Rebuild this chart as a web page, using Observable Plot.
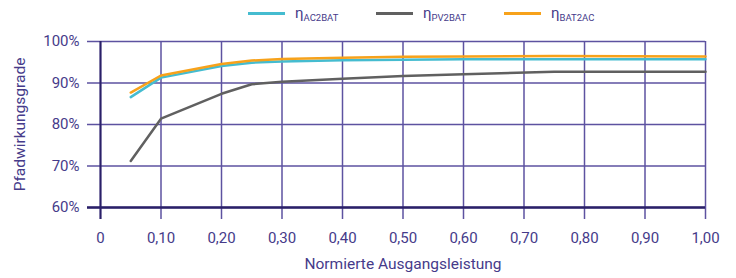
<!DOCTYPE html>
<html><head><meta charset="utf-8">
<script src="https://cdn.jsdelivr.net/npm/d3@7"></script>
<script src="https://cdn.jsdelivr.net/npm/@observablehq/plot@0.6"></script>
<style>
body{margin:0;background:#fff;font-family:Roboto,"Noto Sans",sans-serif;color:#463b8a;}
#legend{position:relative;height:28px;width:736px;}
.item{position:absolute;top:4px;display:flex;align-items:center;font-size:15px;color:#463b8a;}
.item .sw{width:37px;height:3px;margin-right:10px;}
.item sub{font-size:9.5px;vertical-align:-3px;}
</style></head>
<body>
<div id="legend"></div>
<div id="chart"></div>
<script>
const xs = [0.05, 0.1, 0.2, 0.25, 0.3, 0.4, 0.5, 0.6, 0.75, 1.0];
const ac2bat = [86.6, 91.3, 94.1, 94.9, 95.2, 95.5, 95.6, 95.7, 95.75, 95.75];
const pv2bat = [71.2, 81.4, 87.4, 89.7, 90.3, 91.0, 91.7, 92.1, 92.7, 92.7];
const bat2ac = [87.7, 91.8, 94.6, 95.4, 95.8, 96.1, 96.3, 96.4, 96.5, 96.4];
const seriesNames = ["AC2BAT", "PV2BAT", "BAT2AC"];
const seriesColors = ["#45bcd0", "#606060", "#f7a21b"];
const xTicks = [0, 0.1, 0.2, 0.3, 0.4, 0.5, 0.6, 0.7, 0.8, 0.9, 1.0];
const yTicks = [60, 70, 80, 90, 100];
const xTitle = "Normierte Ausgangsleistung";
const yTitle = "Pfadwirkungsgrade";

const values = [ac2bat, pv2bat, bat2ac];
const data = [];
seriesNames.forEach((s, i) => xs.forEach((x, j) => data.push({series: s, x, y: values[i][j]})));

// legend
const legendLeft = [248, 376, 504];
const leg = document.getElementById("legend");
seriesNames.forEach((s, i) => {
  const d = document.createElement("div");
  d.className = "item";
  d.style.left = legendLeft[i] + "px";
  d.innerHTML = `<span class="sw" style="background:${seriesColors[i]}"></span><span>η<sub>${s}</sub></span>`;
  leg.appendChild(d);
});

const grid = "#5d52a0";
const axisC = "#2a2068";
const txt = "#463b8a";
const fmtX = d => d === 0 ? "0" : d.toFixed(2).replace(".", ",");

const chart = Plot.plot({
  width: 736, height: 250,
  marginLeft: 100, marginRight: 31, marginTop: 13, marginBottom: 71,
  style: {fontFamily: "Roboto, 'Noto Sans', sans-serif", fontSize: "15px", color: txt, background: "#fff"},
  x: {domain: [0, 1]},
  y: {domain: [60, 100]},
  color: {domain: seriesNames, range: seriesColors},
  marks: [
    Plot.ruleY(yTicks, {x1: 0, x2: 1, insetLeft: -13, stroke: grid, strokeWidth: 1.5}),
    Plot.ruleX(xTicks, {y1: 100, y2: 60, insetBottom: -12, stroke: grid, strokeWidth: 1.5}),
    Plot.ruleX([0], {y1: 100, y2: 60, insetBottom: -12, stroke: axisC, strokeWidth: 2}),
    Plot.ruleY([60], {x1: 0, x2: 1, insetLeft: -13, stroke: axisC, strokeWidth: 2.5}),
    Plot.axisX({ticks: xTicks, tickFormat: fmtX, tickSize: 0, tickPadding: 25, label: null, fill: txt}),
    Plot.axisY({ticks: yTicks, tickFormat: d => d + "%", tickSize: 0, tickPadding: 21, label: null, fill: txt}),
    Plot.line(data, {x: "x", y: "y", z: "series", stroke: "series", strokeWidth: 2.5}),
    Plot.text([xTitle], {frameAnchor: "bottom", dy: 61, fill: txt, fontSize: 15.5}),
    Plot.text([yTitle], {frameAnchor: "left", dx: -80, rotate: -90, textAnchor: "middle", fill: txt, fontSize: 15.5})
  ]
});
document.getElementById("chart").appendChild(chart);
</script>
</body></html>
